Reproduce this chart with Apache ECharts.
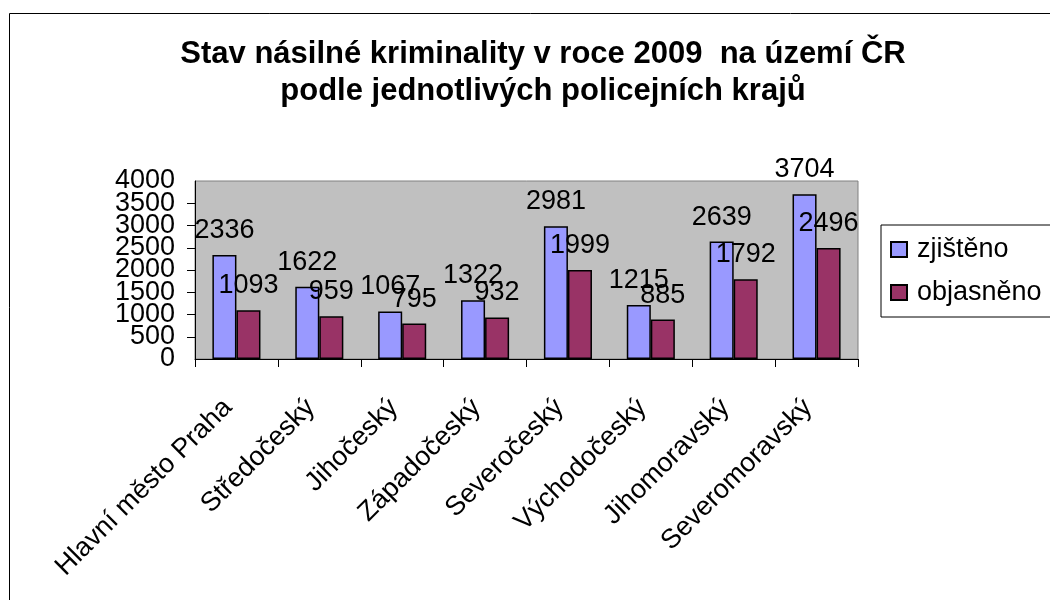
<!DOCTYPE html>
<html>
<head>
<meta charset="utf-8">
<script src="https://cdn.jsdelivr.net/npm/echarts@6/dist/echarts.min.js"></script>
<style>
html,body{margin:0;padding:0;background:#fff;}
#main{width:1050px;height:600px;}
</style>
</head>
<body>
<div id="main"></div>
<script>
const titleText = "Stav násilné kriminality v roce 2009  na území ČR\npodle jednotlivých policejních krajů";
const categories = ["Hlavní město Praha", "Středočeský", "Jihočeský", "Západočeský", "Severočeský", "Východočeský", "Jihomoravský", "Severomoravský"];
const seriesNames = ["zjištěno", "objasněno"];
const zjisteno = [2336, 1622, 1067, 1322, 2981, 1215, 2639, 3704];
const objasneno = [1093, 959, 795, 932, 1999, 885, 1792, 2496];
const yTicks = {min: 0, max: 4000, interval: 500};

const FONT = '"Liberation Sans", Arial, sans-serif';
const FS = 27;
const chart = echarts.init(document.getElementById('main'), null, {renderer: 'canvas'});

const labelCfg = {show: true, position: 'top', distance: 11, color: '#000', fontSize: FS, fontFamily: FONT};
const yLabelBase = {color: '#000', margin: 20, fontFamily: FONT, fontSize: FS, hideOverlap: false,
                    formatter: v => String(v)};

chart.setOption({
  animation: false,
  backgroundColor: '#fff',
  textStyle: {fontFamily: FONT},
  graphic: [{
    type: 'rect', z: -10, silent: true,
    shape: {x: 9.5, y: 13.5, width: 1100, height: 700},
    style: {fill: 'none', stroke: '#000', lineWidth: 1}
  }],
  title: {
    text: titleText,
    left: 538, top: 31, textAlign: 'center',
    textStyle: {fontSize: 31, fontWeight: 'bold', color: '#000', lineHeight: 37, fontFamily: FONT}
  },
  legend: {
    orient: 'vertical',
    left: 881, top: 225,
    width: 200,
    padding: [11, 30, 11, 9],
    itemWidth: 16, itemHeight: 15,
    itemGap: 16,
    borderColor: '#000', borderWidth: 1,
    icon: 'rect',
    textStyle: {fontSize: FS, color: '#000', fontFamily: FONT, padding: [0, 0, 0, 5]},
    data: seriesNames
  },
  grid: {left: 195, right: 192, top: 181, bottom: 241, containLabel: false,
         show: true, backgroundColor: '#C0C0C0', borderColor: '#808080', borderWidth: 1},
  xAxis: {
    type: 'category',
    data: categories,
    axisLine: {lineStyle: {color: '#000', width: 1}},
    axisTick: {show: true, length: 8, lineStyle: {color: '#000'}},
    axisLabel: {rotate: 45, fontSize: FS, color: '#000', margin: 36, interval: 0, fontFamily: FONT,
                padding: [0, 12, 0, 0]}
  },
  yAxis: [{
    type: 'value',
    min: yTicks.min, max: yTicks.max, interval: yTicks.interval,
    axisLine: {show: true, lineStyle: {color: '#000', width: 1}},
    axisTick: {show: true, length: 8, lineStyle: {color: '#000'}},
    splitLine: {show: false},
    axisLabel: Object.assign({}, yLabelBase, {showMinLabel: false, showMaxLabel: false})
  }, {
    type: 'value', position: 'left', offset: 0,
    min: yTicks.min, max: yTicks.max, interval: yTicks.max - yTicks.min,
    axisLine: {show: false}, axisTick: {show: false}, splitLine: {show: false},
    axisLabel: Object.assign({}, yLabelBase, {showMinLabel: true, showMaxLabel: true})
  }],
  series: [
    {name: seriesNames[0], type: 'bar', data: zjisteno, barGap: '0%', barCategoryGap: '42%',
     itemStyle: {color: '#9999FF', borderColor: '#000', borderWidth: 1.5}, label: labelCfg},
    {name: seriesNames[1], type: 'bar', data: objasneno,
     itemStyle: {color: '#993366', borderColor: '#000', borderWidth: 1.5}, label: labelCfg}
  ]
});
</script>
</body>
</html>
